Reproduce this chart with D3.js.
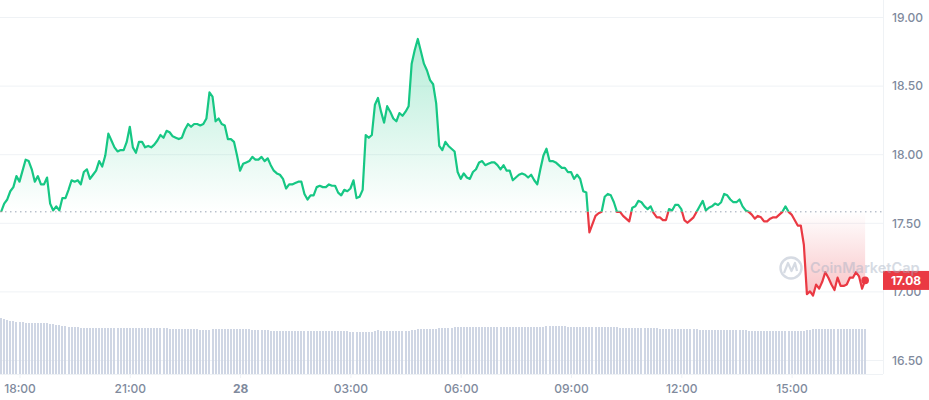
<!DOCTYPE html>
<html>
<head>
<meta charset="utf-8">
<script src="https://cdn.jsdelivr.net/npm/d3@7/dist/d3.min.js"></script>
<style>
html,body{margin:0;padding:0;background:#fff}
svg{display:block}
text{font-family:Inter,"Noto Sans",sans-serif}
</style>
</head>
<body>
<svg id="c" width="929" height="400"></svg>
<script>
const prices = [
17.58,17.64,17.67,17.73,17.76,17.84,17.80,17.88,17.96,17.95,17.89,17.80,17.84,17.78,17.78,17.83,17.64,17.59,17.62,17.59,
17.68,17.68,17.74,17.81,17.80,17.81,17.78,17.87,17.89,17.82,17.85,17.88,17.95,17.91,17.99,18.15,18.10,18.05,18.02,18.03,
18.03,18.09,18.20,18.05,18.01,18.09,18.09,18.05,18.06,18.05,
18.07,18.10,18.14,18.12,18.17,18.16,18.13,18.12,18.11,18.12,18.18,18.22,18.20,18.22,18.22,18.21,18.22,18.26,18.45,18.42,
18.24,18.26,18.22,18.21,18.11,18.11,18.09,17.99,17.88,17.93,17.94,17.95,17.98,17.96,17.96,17.98,17.95,17.97,17.92,17.88,
17.86,17.85,17.82,17.75,17.78,17.78,17.79,17.80,
17.80,17.71,17.67,17.70,17.70,17.76,17.77,17.76,17.76,17.78,17.77,17.77,17.72,17.70,17.74,17.73,17.75,17.81,17.68,17.69,
17.74,18.14,18.12,18.14,18.36,18.41,18.31,18.23,18.35,18.31,18.26,18.24,18.30,18.28,18.31,18.35,18.66,18.76,18.84,18.75,
18.66,18.61,18.54,18.51,18.37,18.06,18.03,18.09,18.06,18.04,
18.02,17.87,17.82,17.86,17.83,17.82,17.87,17.89,17.94,17.95,17.92,17.93,17.94,17.94,17.92,17.89,17.92,17.88,17.88,17.81,
17.83,17.85,17.86,17.85,17.83,17.85,17.81,17.78,17.89,17.99,18.04,17.95,17.95,17.94,17.92,17.90,17.90,17.87,17.87,17.82,
17.85,17.82,17.73,17.72,
17.43,17.49,17.55,17.57,17.58,17.69,17.71,17.70,17.65,17.58,17.58,17.55,17.53,17.51,17.61,17.62,17.66,17.65,17.62,17.60,
17.62,17.57,17.54,17.54,17.52,17.52,17.60,17.59,17.63,17.63,17.60,17.52,17.50,17.52,17.54,17.58,17.62,17.66,17.59,17.61,
17.62,17.64,17.63,17.65,17.71,17.70,17.67,17.65,
17.65,17.67,17.62,17.59,17.58,17.56,17.53,17.55,17.54,17.51,17.51,17.53,17.54,17.54,17.56,17.58,17.62,17.58,17.56,17.52,
17.48,17.48,17.34,16.98,17.00,16.97,17.05,17.02,17.07,17.14,17.10,17.05,17.01,17.10,17.04,17.04,17.05,17.10,17.10,17.14,
17.11,17.02,17.08
];
const volumes = [
56,55,54,53,53,52,52,52,51,51,51,51,51,51,51,51,50,50,49,49,48,48,47,47,47,47,
46,46,46,46,46,46,46,46,46,46,46,46,46,46,46,46,46,46,46,46,46,46,46,46,46,46,46,46,46,
45,45,45,45,45,45,45,45,45,45,44,44,44,44,
45,45,45,45,45,45,45,45,45,45,45,45,45,44,44,44,44,44,44,
43,43,43,43,43,43,43,43,43,43,
43,43,43,43,43,43,43,43,43,43,43,43,43,43,43,43,42,42,42,42,42,42,42,42,43,44,
43,43,43,43,43,43,43,43,43,43,44,44,45,45,45,45,45,45,45,46,46,46,46,46,
47,47,47,47,47,47,47,47,47,47,47,47,47,47,47,47,47,47,47,47,47,47,47,47,47,47,47,47,47,47,
48,48,48,48,48,48,48,47,47,47,47,47,47,47,47,47,47,47,
47,47,47,47,47,47,46,46,46,46,46,46,46,46,46,46,46,46,46,
45,45,45,45,45,45,45,45,45,45,45,45,45,44,44,44,44,44,44,44,44,44,44,44,44,44,44,44,44,
43,43,43,43,43,43,43,43,43,43,43,43,43,43,43,43,43,43,43,44,44,
45,45,45,45,45,45,45,45,45,45,45,45,45,45,45,45,45,45
];
const priceTicks = [19, 18.5, 18, 17.5, 17, 16.5];
const timeTickHours = [18, 21, 24, 27, 30, 33, 36, 39];
const timeTickLabels = ["18:00","21:00","28","03:00","06:00","09:00","12:00","15:00"];
const baselinePrice = 17.58;
const lastLabel = "17.08";
const stepMinutes = 5;
const startHour = 17.5;

const GREEN="#16c784", RED="#ea3943", GRID="#eff2f5", TXT="#808a9d";
const W=929, H=400, plotR=883, plotB=374;
const svg=d3.select("#c");
const hourMs=3600000, t0=Date.UTC(2023,0,27,0,0);
const toDate=h=>new Date(t0+h*hourMs);
const dates=prices.map((_,i)=>toDate(startHour+i*stepMinutes/60));
const x=d3.scaleUtc().domain([toDate(18),toDate(39)]).range([19.5,791.6]);
const y=d3.scaleLinear().domain([16.5,19]).range([360,17]);
const yv=d3.scaleLinear().domain([0,56]).range([plotB,318]);
const by=y(baselinePrice);

const defs=svg.append("defs");
const gu=defs.append("linearGradient").attr("id","gUp").attr("gradientUnits","userSpaceOnUse")
 .attr("x1",0).attr("x2",0).attr("y1",y(18.84)).attr("y2",by);
gu.append("stop").attr("offset",0).attr("stop-color",GREEN).attr("stop-opacity",.32);
gu.append("stop").attr("offset",1).attr("stop-color",GREEN).attr("stop-opacity",0);
const gd=defs.append("linearGradient").attr("id","gDn").attr("gradientUnits","userSpaceOnUse")
 .attr("x1",0).attr("x2",0).attr("y1",by).attr("y2",y(16.97));
gd.append("stop").attr("offset",0).attr("stop-color",RED).attr("stop-opacity",0);
gd.append("stop").attr("offset",1).attr("stop-color",RED).attr("stop-opacity",.3);
defs.append("clipPath").attr("id","above").append("rect").attr("x",0).attr("y",0).attr("width",plotR).attr("height",by);
defs.append("clipPath").attr("id","below").append("rect").attr("x",0).attr("y",by).attr("width",plotR).attr("height",plotB-by);

// price axis and grid
const yAxis=d3.axisRight(y).tickValues(priceTicks).tickFormat(d3.format(".2f")).tickSize(0).tickPadding(9);
const ya=svg.append("g").attr("transform",`translate(${plotR},0)`).call(yAxis);
ya.select(".domain").remove();
ya.selectAll("text").attr("fill",TXT).attr("font-size",12).attr("font-weight",500).attr("dy","0.35em");
svg.append("g").selectAll("line").data(priceTicks).join("line")
 .attr("x1",0).attr("x2",plotR).attr("y1",d=>y(d)+.5).attr("y2",d=>y(d)+.5).attr("stroke",GRID).attr("stroke-width",1);
svg.append("line").attr("x1",plotR+.5).attr("x2",plotR+.5).attr("y1",0).attr("y2",plotB).attr("stroke",GRID);

// volume bars
svg.append("g").selectAll("rect").data(volumes).join("rect")
 .attr("x",(d,i)=>Math.round(x(dates[i]))-1).attr("width",2).attr("y",d=>yv(d)).attr("height",d=>plotB-yv(d)).attr("fill","#cfd6e4");

// time axis
const xAxis=d3.axisBottom(x).tickValues(timeTickHours.map(toDate))
 .tickFormat((d,i)=>timeTickLabels[i]).tickSize(4).tickPadding(6);
const xa=svg.append("g").attr("transform",`translate(0,${plotB})`).call(xAxis);
xa.select(".domain").remove();
xa.selectAll("line").attr("stroke",GRID);
xa.selectAll("text").attr("fill",TXT).attr("font-size",12).attr("font-weight",(d,i)=>timeTickLabels[i]==="28"?700:500);
svg.append("line").attr("x1",0).attr("x2",plotR).attr("y1",plotB+.5).attr("y2",plotB+.5).attr("stroke",GRID);

// areas and lines
const area=d3.area().x((d,i)=>x(dates[i])).y0(by).y1(d=>y(d));
const line=d3.line().x((d,i)=>x(dates[i])).y(d=>y(d));
svg.append("path").attr("d",area(prices)).attr("fill","url(#gUp)").attr("clip-path","url(#above)");
svg.append("path").attr("d",area(prices)).attr("fill","url(#gDn)").attr("clip-path","url(#below)");
svg.append("line").attr("x1",0).attr("x2",plotR).attr("y1",by).attr("y2",by)
 .attr("stroke","#9aa3b5").attr("stroke-width",1).attr("stroke-dasharray","1.5 3.5");
[["above",GREEN],["below",RED]].forEach(([c,col])=>{
 svg.append("path").attr("d",line(prices)).attr("fill","none").attr("stroke",col).attr("stroke-width",2.2)
  .attr("stroke-linejoin","round").attr("clip-path",`url(#${c})`);
});
svg.append("circle").attr("cx",x(dates[dates.length-1])).attr("cy",y(prices[prices.length-1])).attr("r",3.8).attr("fill",RED);

// price tag
const tagY=y(+lastLabel);
svg.append("rect").attr("x",plotR).attr("y",tagY-9.5).attr("width",W-plotR).attr("height",19).attr("fill",RED);
svg.append("text").attr("x",906).attr("y",tagY+.5).attr("dy","0.35em").attr("text-anchor","middle")
 .attr("fill","#fff").attr("font-size",12).attr("font-weight",700).text(lastLabel);

// watermark
const wm=svg.append("g").attr("opacity",.45);
wm.append("circle").attr("cx",791).attr("cy",268).attr("r",10.5).attr("fill","none").attr("stroke","#a6b0c3").attr("stroke-width",2.4);
wm.append("path").attr("d","M784 273 L788 263 L791.5 271 L795 263 L797 271").attr("fill","none").attr("stroke","#a6b0c3").attr("stroke-width",2.2).attr("stroke-linejoin","round");
wm.append("text").attr("x",810).attr("y",273).attr("fill","#a6b0c3").attr("font-size",14.5).attr("font-weight",600).text("CoinMarketCap");
</script>
</body>
</html>
